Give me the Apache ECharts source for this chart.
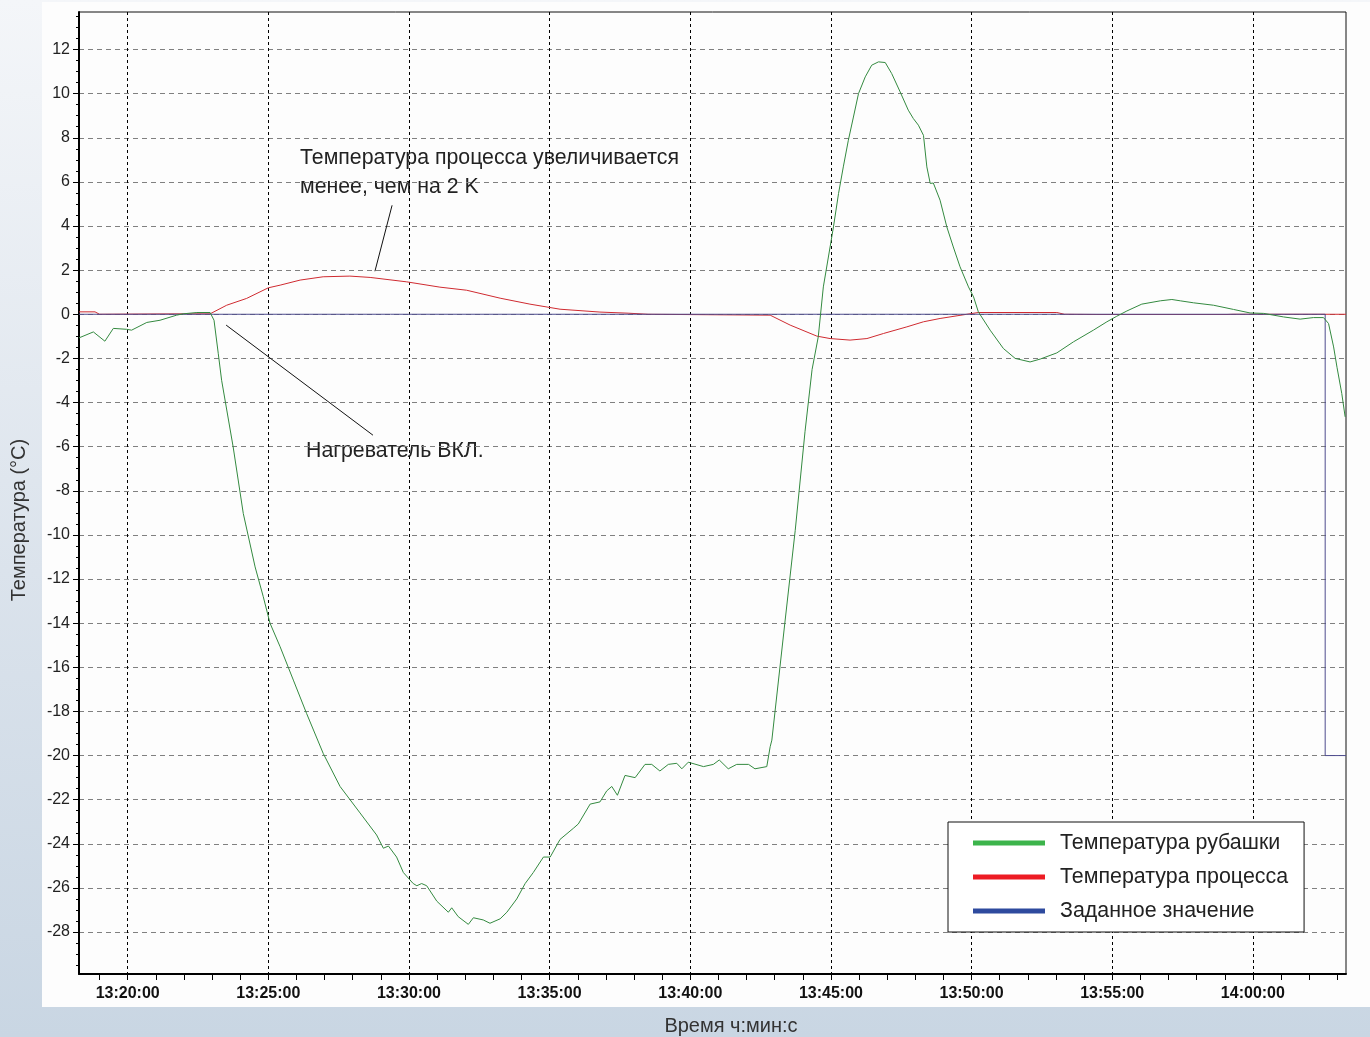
<!DOCTYPE html>
<html>
<head>
<meta charset="utf-8">
<script src="https://cdn.jsdelivr.net/npm/echarts@6/dist/echarts.min.js"></script>
<style>
  html, body { margin: 0; padding: 0; }
  body { width: 1370px; height: 1037px; position: relative; overflow: hidden;
         background: linear-gradient(to bottom, #f4f6f9 0%, #dbe3ec 55%, #c9d6e3 100%); }
  #panel { position: absolute; left: 42px; top: 2px; width: 1328px; height: 1005px; background: #fdfdfd; }
  #main { position: absolute; left: 0; top: 0; width: 1370px; height: 1037px; }
</style>
</head>
<body>
<div id="panel"></div>
<div id="main"></div>
<script>
// time in minutes after 13:00
var xMin = 18.27, xMax = 63.31;
var yMin = -29.9, yMax = 13.7;

var majorTimes = [20, 25, 30, 35, 40, 45, 50, 55, 60];
var yLabels = [-28, -26, -24, -22, -20, -18, -16, -14, -12, -10, -8, -6, -4, -2, 0, 2, 4, 6, 8, 10, 12];

var seriesNames = ['Температура рубашки', 'Температура процесса', 'Заданное значение'];

// jacket temperature
var jacketTime = [18.27, 18.78, 19.19, 19.49, 19.96, 20.14, 20.68, 21.15, 21.74, 21.97, 22.46, 22.93, 23.07, 23.22, 23.34,
  23.75, 24.11, 24.53, 24.82, 25.06, 25.42, 25.89, 26.36, 26.95, 27.55, 28.26, 28.85, 29.09, 29.27, 29.56, 29.80,
  30.15, 30.28, 30.45, 30.63, 30.99, 31.40, 31.52, 31.75, 32.11, 32.29, 32.64, 32.88, 33.24, 33.48, 33.83, 34.13,
  34.42, 34.78, 35.02, 35.37, 35.84, 36.02, 36.44, 36.79, 37.03, 37.21, 37.41, 37.68, 38.04, 38.39, 38.63, 38.92,
  39.22, 39.52, 39.70, 39.93, 40.47, 40.82, 41.03, 41.35, 41.65, 42.07, 42.30, 42.72, 42.84, 42.90, 43.37, 43.73,
  44.08, 44.33, 44.55, 44.73, 44.97, 45.09, 45.27, 45.44, 45.62, 45.80, 45.98, 46.22, 46.45, 46.69, 46.93, 47.16,
  47.46, 47.75, 47.93, 48.11, 48.29, 48.41, 48.53, 48.64, 48.88, 49.12, 49.35, 49.59, 49.89, 50.07, 50.24, 50.66,
  51.13, 51.55, 52.08, 52.44, 53.03, 53.62, 54.33, 54.81, 55.16, 55.52, 56.05, 56.71, 57.12, 57.42, 57.89, 58.60,
  59.31, 59.90, 60.38, 61.09, 61.68, 62.15, 62.51, 62.69, 62.87, 62.99, 63.16, 63.28];
var jacketTemp = [-1.07, -0.80, -1.22, -0.64, -0.68, -0.72, -0.37, -0.27, -0.04, 0.02, 0.08, 0.08, -0.27, -1.77, -2.99,
  -6.01, -9.03, -11.45, -12.8, -14.0, -15.07, -16.58, -18.09, -19.9, -21.4, -22.6, -23.6, -24.2, -24.1, -24.6, -25.3,
  -25.8, -25.9, -25.8, -25.9, -26.6, -27.1, -26.9, -27.3, -27.65, -27.35, -27.45, -27.6, -27.4, -27.1, -26.5, -25.8,
  -25.3, -24.6, -24.6, -23.8, -23.3, -23.1, -22.2, -22.1, -21.6, -21.4, -21.8, -20.9, -21.0, -20.4, -20.4, -20.7,
  -20.4, -20.35, -20.6, -20.3, -20.5, -20.4, -20.2, -20.6, -20.4, -20.4, -20.6, -20.5, -19.6, -19.3, -13.9, -9.8,
  -5.3, -2.5, -1.02, 1.24, 3.05, 3.96, 5.47, 6.68, 7.89, 8.94, 10.0, 10.76, 11.29, 11.44, 11.41, 10.91,
  10.08, 9.25, 8.87, 8.57, 8.11, 6.68, 5.93, 5.95, 5.17, 3.96, 3.05, 2.15, 1.24, 0.79, 0.11, -0.72,
  -1.55, -2.0, -2.16, -2.03, -1.75, -1.25, -0.72, -0.34, -0.09, 0.15, 0.46, 0.61, 0.67, 0.61, 0.52, 0.41,
  0.22, 0.06, 0.04, -0.12, -0.22, -0.15, -0.15, -0.42, -1.48, -2.4, -3.59, -4.65];

// process temperature
var processTime = [18.27, 18.84, 19.0, 21.97, 22.93, 23.52, 24.23, 25.0, 25.42, 26.13, 26.95, 27.90, 28.62, 29.92,
  31.10, 32.05, 33.24, 34.30, 35.37, 36.79, 37.79, 38.5, 42.84, 43.55, 44.50, 44.97, 45.68, 46.28, 46.87, 47.70,
  48.29, 48.88, 49.83, 50.24, 53.03, 53.3, 54.45, 59.08, 59.3, 63.31];
var processTemp = [0.11, 0.11, 0, 0.02, 0.02, 0.41, 0.72, 1.2, 1.32, 1.55, 1.7, 1.73, 1.67, 1.47,
  1.23, 1.09, 0.73, 0.46, 0.23, 0.1, 0.05, 0, -0.04, -0.49, -0.99, -1.1, -1.17, -1.1, -0.87, -0.57,
  -0.34, -0.19, 0, 0.08, 0.08, 0, -0.01, -0.01, 0, 0];

// setpoint
var setTime = [18.27, 62.57, 62.57, 63.31];
var setTemp = [0, 0, -20, -20];

function zip(a, b) { return a.map(function (v, i) { return [v, b[i]]; }); }
function fmtTime(v) {
  var total = Math.round(v * 60);
  var h = 13 + Math.floor(total / 3600);
  var m = Math.floor((total % 3600) / 60);
  var s = total % 60;
  var p = function (n) { return (n < 10 ? '0' : '') + n; };
  return p(h) + ':' + p(m) + ':' + p(s);
}
var minuteTicks = [];
for (var t = 19; t <= 63; t++) minuteTicks.push(t);
var halfTicks = [];
for (var y = -29.5; y <= 13.5; y += 0.5) halfTicks.push(y);

var font = '"Liberation Sans", Arial, sans-serif';
var chart = echarts.init(document.getElementById('main'));

var option = {
  animation: false,
  grid: { left: 79, top: 12, right: 24, bottom: 63, outerBoundsMode: 'none', containLabel: false,
          show: true, borderColor: '#111', borderWidth: 1, backgroundColor: 'transparent' },
  legend: {
    orient: 'vertical',
    left: 948, top: 822,
    backgroundColor: '#fff',
    borderColor: '#111', borderWidth: 1,
    padding: [10, 16, 10, 25],
    itemGap: 12,
    itemWidth: 72, itemHeight: 5,
    icon: 'rect',
    textStyle: { fontSize: 21.4, fontFamily: font, color: '#222', padding: [0, 0, 0, 10], lineHeight: 22 },
    data: [
      { name: seriesNames[0], itemStyle: { color: '#3cb44b' } },
      { name: seriesNames[1], itemStyle: { color: '#ed1c24' } },
      { name: seriesNames[2], itemStyle: { color: '#2e4a9e' } }
    ]
  },
  xAxis: [{
    type: 'value', min: xMin, max: xMax, position: 'bottom',
    axisLine: { onZero: false, lineStyle: { color: '#000', width: 2 } },
    axisTick: { show: false, customValues: majorTimes },
    axisLabel: { customValues: majorTimes, formatter: fmtTime, margin: 12, fontSize: 16, fontWeight: 'bold', fontFamily: font, color: '#111' },
    splitLine: { show: true, lineStyle: { color: '#000', type: [3, 3], width: 1 } }
  }, {
    type: 'value', min: xMin, max: xMax, position: 'bottom',
    axisLine: { show: false, onZero: false },
    axisTick: { show: true, customValues: minuteTicks, length: 6, lineStyle: { color: '#000', width: 1 } },
    axisLabel: { show: false },
    splitLine: { show: false }
  }],
  yAxis: [{
    type: 'value', min: yMin, max: yMax, position: 'left',
    axisLine: { show: true, onZero: false, lineStyle: { color: '#000', width: 2 } },
    axisTick: { show: true, customValues: yLabels, length: 6, lineStyle: { color: '#000' } },
    axisLabel: { customValues: yLabels, margin: 9, fontSize: 16, fontFamily: font, color: '#222' },
    splitLine: { show: true, lineStyle: { color: '#808080', type: [5, 4], width: 1 } }
  }, {
    type: 'value', min: yMin, max: yMax, position: 'left',
    axisLine: { show: false, onZero: false },
    axisTick: { show: true, customValues: halfTicks, length: 3, lineStyle: { color: '#000' } },
    axisLabel: { show: false },
    splitLine: { show: false }
  }],
  series: [{
    name: seriesNames[1], type: 'line', data: zip(processTime, processTemp),
    showSymbol: false, symbol: 'none', z: 2,
    lineStyle: { color: '#cf2a30', width: 1 }, itemStyle: { color: '#cf2a30' }
  }, {
    name: seriesNames[2], type: 'line', data: zip(setTime, setTemp),
    showSymbol: false, symbol: 'none', z: 3,
    lineStyle: { color: '#4e4c8e', width: 1 }, itemStyle: { color: '#4e4c8e' },
    markLine: {
      silent: true, symbol: 'none', label: { show: false },
      lineStyle: { color: '#111', width: 1, type: 'solid' },
      data: [
        [{ coord: [29.40, 4.94] }, { coord: [28.79, 1.95] }],
        [{ coord: [23.50, -0.49] }, { coord: [28.72, -5.48] }]
      ]
    }
  }, {
    name: seriesNames[0], type: 'line', data: zip(jacketTime, jacketTemp),
    showSymbol: false, symbol: 'none', z: 4,
    lineStyle: { color: '#33893f', width: 1 }, itemStyle: { color: '#33893f' }
  }],
  graphic: [
    { type: 'text', x: 300, y: 158, style: { text: 'Температура процесса увеличивается', font: '21.3px ' + font, fill: '#222', textVerticalAlign: 'middle' } },
    { type: 'text', x: 300, y: 187, style: { text: 'менее, чем на 2 K', font: '21.3px ' + font, fill: '#222', textVerticalAlign: 'middle' } },
    { type: 'text', x: 306, y: 451, style: { text: 'Нагреватель ВКЛ.', font: '21.3px ' + font, fill: '#222', textVerticalAlign: 'middle' } },
    { type: 'text', x: 731, y: 1026, style: { text: 'Время ч:мин:с', font: '20px ' + font, fill: '#333', textAlign: 'center', textVerticalAlign: 'middle' } },
    { type: 'text', x: 19, y: 520, rotation: Math.PI / 2, style: { text: 'Температура (°C)', font: '20px ' + font, fill: '#333', textAlign: 'center', textVerticalAlign: 'middle' } }
  ]
};
chart.setOption(option);
</script>
</body>
</html>
